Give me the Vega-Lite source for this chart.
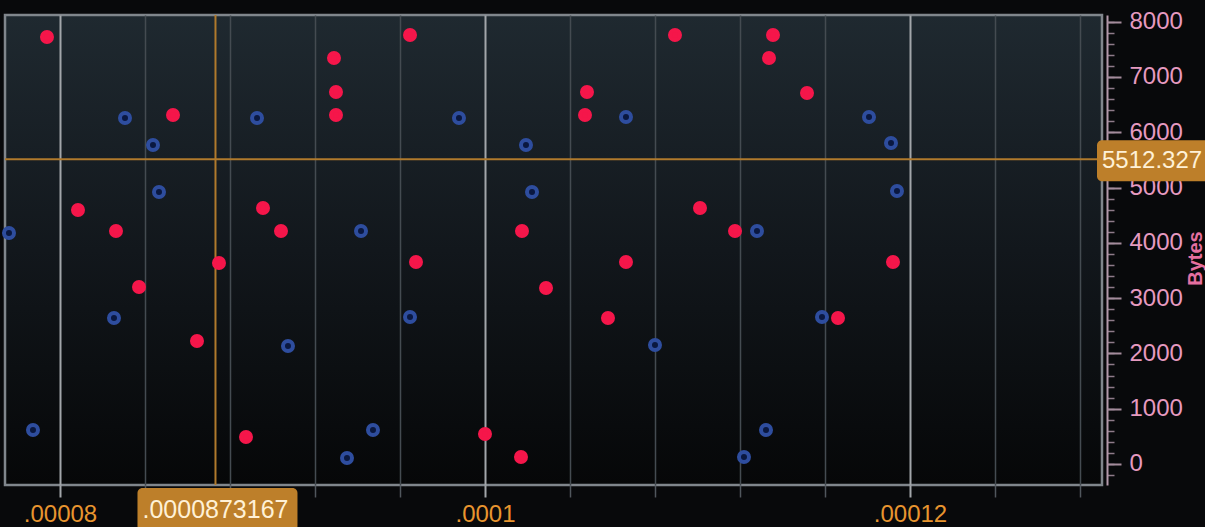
{
  "$schema": "https://vega.github.io/schema/vega-lite/v6.json",
  "width": 1097,
  "height": 470,
  "autosize": {"type": "none"},
  "padding": {"left": 5, "top": 15, "right": 103, "bottom": 42},
  "background": "#08090b",
  "config": {
    "view": {
      "fill": {"gradient": "linear", "x1": 0, "y1": 0, "x2": 0, "y2": 1, "stops": [{"offset": 0, "color": "#1f2930"}, {"offset": 0.5, "color": "#12171c"}, {"offset": 1, "color": "#060708"}]},
      "stroke": "#80868c",
      "strokeWidth": 2.5
    }
  },
  "datasets": {
    "points": [
      {"t": 0.000079388, "bytes": 7722, "series": "red"},
      {"t": 0.000085318, "bytes": 6311, "series": "red"},
      {"t": 0.000092894, "bytes": 7342, "series": "red"},
      {"t": 0.000092988, "bytes": 6727, "series": "red"},
      {"t": 0.000092988, "bytes": 6311, "series": "red"},
      {"t": 0.000080847, "bytes": 4593, "series": "red"},
      {"t": 0.000082635, "bytes": 4214, "series": "red"},
      {"t": 0.000089553, "bytes": 4630, "series": "red"},
      {"t": 0.0000904, "bytes": 4214, "series": "red"},
      {"t": 0.000083718, "bytes": 3201, "series": "red"},
      {"t": 0.000087482, "bytes": 3635, "series": "red"},
      {"t": 0.000086447, "bytes": 2224, "series": "red"},
      {"t": 0.000088753, "bytes": 488, "series": "red"},
      {"t": 0.000096471, "bytes": 7758, "series": "red"},
      {"t": 0.0001048, "bytes": 6727, "series": "red"},
      {"t": 0.000104706, "bytes": 6311, "series": "red"},
      {"t": 0.000108941, "bytes": 7758, "series": "red"},
      {"t": 0.000113553, "bytes": 7758, "series": "red"},
      {"t": 0.000113365, "bytes": 7342, "series": "red"},
      {"t": 0.000115153, "bytes": 6709, "series": "red"},
      {"t": 0.000101741, "bytes": 4214, "series": "red"},
      {"t": 0.000110118, "bytes": 4630, "series": "red"},
      {"t": 0.000111765, "bytes": 4214, "series": "red"},
      {"t": 0.000096753, "bytes": 3653, "series": "red"},
      {"t": 0.000102871, "bytes": 3183, "series": "red"},
      {"t": 0.000106635, "bytes": 3653, "series": "red"},
      {"t": 0.000105788, "bytes": 2640, "series": "red"},
      {"t": 0.0001, "bytes": 542, "series": "red"},
      {"t": 0.000101694, "bytes": 126, "series": "red"},
      {"t": 0.0001192, "bytes": 3653, "series": "red"},
      {"t": 0.000116612, "bytes": 2640, "series": "red"},
      {"t": 0.0000776, "bytes": 4178, "series": "blue"},
      {"t": 0.000083059, "bytes": 6257, "series": "blue"},
      {"t": 0.000084376, "bytes": 5769, "series": "blue"},
      {"t": 0.000084659, "bytes": 4919, "series": "blue"},
      {"t": 0.000089271, "bytes": 6257, "series": "blue"},
      {"t": 0.000094165, "bytes": 4214, "series": "blue"},
      {"t": 0.000078729, "bytes": 615, "series": "blue"},
      {"t": 0.000082541, "bytes": 2640, "series": "blue"},
      {"t": 0.000090729, "bytes": 2134, "series": "blue"},
      {"t": 0.000093506, "bytes": 108, "series": "blue"},
      {"t": 0.000094729, "bytes": 615, "series": "blue"},
      {"t": 0.000098776, "bytes": 6257, "series": "blue"},
      {"t": 0.000101929, "bytes": 5769, "series": "blue"},
      {"t": 0.000102212, "bytes": 4919, "series": "blue"},
      {"t": 0.000106635, "bytes": 6275, "series": "blue"},
      {"t": 0.0001128, "bytes": 4214, "series": "blue"},
      {"t": 0.000096471, "bytes": 2658, "series": "blue"},
      {"t": 0.000108, "bytes": 2152, "series": "blue"},
      {"t": 0.000112188, "bytes": 126, "series": "blue"},
      {"t": 0.000113224, "bytes": 615, "series": "blue"},
      {"t": 0.000118071, "bytes": 6275, "series": "blue"},
      {"t": 0.000119106, "bytes": 5805, "series": "blue"},
      {"t": 0.000119388, "bytes": 4937, "series": "blue"},
      {"t": 0.000115859, "bytes": 2658, "series": "blue"}
    ],
    "cursor": [
      {"cx": 0.0000873167, "cy": 5512.327, "cxLabel": ".0000873167", "cyLabel": "5512.327"}
    ]
  },
  "resolve": {"axis": {"x": "independent", "y": "independent"}},
  "layer": [
    {
      "data": {"name": "cursor"},
      "mark": {"type": "rule", "color": "#b07a2c", "strokeWidth": 2},
      "encoding": {
        "x": {
          "field": "cx", "type": "quantitative",
          "scale": {"domain": [0.0000774118, 0.0001290353], "nice": false, "zero": false},
          "axis": {
            "orient": "bottom", "title": null,
            "values": [0.000084, 0.000088, 0.000092, 0.000096, 0.000104, 0.000108, 0.000112, 0.000116, 0.000124, 0.000128],
            "grid": true, "gridColor": "#444b51", "gridWidth": 1.5,
            "labels": false, "domain": false,
            "ticks": true, "tickSize": 12, "tickColor": "#50575d", "tickWidth": 1.5
          }
        }
      }
    },
    {
      "data": {"name": "cursor"},
      "mark": {"type": "rule", "color": "#b07a2c", "strokeWidth": 2},
      "encoding": {
        "y": {
          "field": "cy", "type": "quantitative",
          "scale": {"domain": [-380, 8120], "nice": false, "zero": false},
          "axis": {
            "orient": "right", "offset": 5, "title": null,
            "values": [-200, 0, 200, 400, 600, 800, 1000, 1200, 1400, 1600, 1800, 2000, 2200, 2400, 2600, 2800, 3000, 3200, 3400, 3600, 3800, 4000, 4200, 4400, 4600, 4800, 5000, 5200, 5400, 5600, 5800, 6000, 6200, 6400, 6600, 6800, 7000, 7200, 7400, 7600, 7800, 8000],
            "grid": false, "labels": false,
            "domain": true, "domainColor": "#b39aab", "domainWidth": 2,
            "ticks": true, "tickSize": 7, "tickColor": "#8e7b89", "tickWidth": 1.5
          }
        }
      }
    },
    {
      "data": {"name": "points"},
      "mark": {"type": "circle", "size": 100, "strokeWidth": 4, "opacity": 1},
      "encoding": {
        "x": {
          "field": "t", "type": "quantitative",
          "axis": {
            "orient": "bottom", "title": null,
            "values": [0.00008, 0.0001, 0.00012],
            "grid": true, "gridColor": "#a2a6aa", "gridWidth": 2,
            "domain": false,
            "tickSize": 12, "tickColor": "#a2a6aa", "tickWidth": 2,
            "labelExpr": "replace(format(datum.value, '~f'), '0.', '.')",
            "labelColor": "#e8952f", "labelFont": "Liberation Sans", "labelFontSize": 24, "labelPadding": 5
          }
        },
        "y": {
          "field": "bytes", "type": "quantitative",
          "axis": {
            "orient": "right", "offset": 5,
            "values": [0, 1000, 2000, 3000, 4000, 5000, 6000, 7000, 8000],
            "format": "d",
            "grid": false, "domain": false,
            "tickSize": 14, "tickColor": "#a48c9c", "tickWidth": 2,
            "labelColor": "#e69ac0", "labelFont": "Liberation Sans", "labelFontSize": 24, "labelPadding": 8,
            "title": "Bytes", "titleColor": "#e56fa0", "titleFont": "Liberation Sans", "titleFontSize": 20, "titleFontWeight": "bold",
            "titleAngle": 270, "titleBaseline": "top", "titlePadding": 3, "titleY": 243
          }
        },
        "fill": {"field": "series", "type": "nominal", "scale": {"domain": ["red", "blue"], "range": ["#f5164a", "#0a1840"]}, "legend": null},
        "stroke": {"field": "series", "type": "nominal", "scale": {"domain": ["red", "blue"], "range": ["#f5164a", "#2e4d9e"]}, "legend": null}
      }
    },
    {
      "data": {"name": "cursor"},
      "mark": {"type": "rect", "color": "#bd7f2a", "cornerRadius": 5, "xOffset": -78, "x2Offset": 82, "yOffset": 3, "y2Offset": 46},
      "encoding": {
        "x": {"field": "cx", "type": "quantitative", "axis": null},
        "x2": {"field": "cx"},
        "y": {"value": "height"},
        "y2": {"value": "height"}
      }
    },
    {
      "data": {"name": "cursor"},
      "mark": {"type": "text", "color": "#fff1d6", "font": "Liberation Sans", "fontSize": 25, "baseline": "alphabetic", "align": "center", "yOffset": 33},
      "encoding": {
        "x": {"field": "cx", "type": "quantitative", "axis": null},
        "y": {"value": "height"},
        "text": {"field": "cxLabel"}
      }
    },
    {
      "data": {"name": "cursor"},
      "mark": {"type": "rect", "color": "#bd7f2a", "cornerRadius": 5, "xOffset": -5, "x2Offset": 120, "yOffset": -19, "y2Offset": 22},
      "encoding": {
        "x": {"value": "width"},
        "x2": {"value": "width"},
        "y": {"field": "cy", "type": "quantitative", "axis": null},
        "y2": {"field": "cy"}
      }
    },
    {
      "data": {"name": "cursor"},
      "mark": {"type": "text", "color": "#fff1d6", "font": "Liberation Sans", "fontSize": 24, "baseline": "middle", "align": "left", "xOffset": 0, "yOffset": 2},
      "encoding": {
        "x": {"value": "width"},
        "y": {"field": "cy", "type": "quantitative", "axis": null},
        "text": {"field": "cyLabel"}
      }
    }
  ]
}
